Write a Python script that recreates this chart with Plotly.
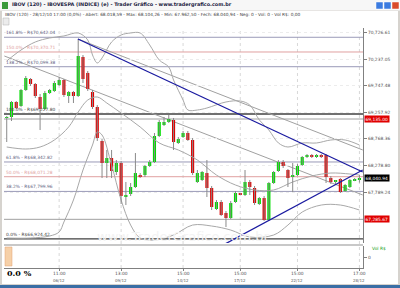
import plotly.graph_objects as go

# ---------------- data ----------------
opens = [69154, 69172, 69449, 69375, 69670, 69873, 69781, 69541, 69320, 69615,
         69652, 69762, 69854, 69559, 69633, 69559, 70279, 69984, 69633, 69357,
         68730, 68324, 68416, 68158, 68324, 67697, 67752, 67881, 68102, 68102,
         68269, 68342, 68822, 69024, 69080, 69117, 68693, 68803, 68877, 68748,
         67974, 68011, 68139, 67863, 67476, 67605, 67402, 67310, 67605, 67762,
         67734, 67974, 67863, 67568, 67678, 67273, 67955, 68176, 68342, 68195,
         68084, 68102, 68287, 68435, 68471, 68435, 68471, 68471, 68047, 67974,
         68029, 67808, 67881, 68002, 68018.59]
highs = [69191, 69467, 69467, 69689, 69928, 69891, 69799, 69596, 69652, 69689,
         69836, 69910, 69873, 69652, 69652, 70610, 70315, 70020, 69670, 69393,
         68766, 68564, 68564, 68379, 68361, 67974, 67955, 68508, 68139, 68287,
         68379, 68877, 69117, 69172, 69209, 69154, 68803, 68914, 68914, 68785,
         68195, 68176, 68379, 67900, 67642, 67642, 67439, 67623, 67808, 67771,
         68195, 68011, 67900, 67697, 67715, 67974, 68176, 68379, 68379, 68213,
         68324, 68305, 68453, 68490, 68490, 68490, 68490, 68490, 68084, 68011,
         68047, 67937, 68029, 68047, 68104.26]
lows = [68711, 69098, 69320, 69357, 69652, 69744, 69522, 68932, 69301, 69596,
        69633, 69744, 69541, 69430, 69430, 69541, 69799, 69652, 69320, 68730,
        68047, 68047, 68047, 68102, 67568, 67549, 67715, 67863, 68047, 68066,
        68250, 68324, 68803, 69006, 69062, 68564, 68674, 68785, 68730, 68102,
        67955, 67992, 67697, 67457, 67457, 67347, 67144, 67291, 67586, 67734,
        67715, 67734, 67549, 67549, 67254, 67254, 67937, 68158, 68232, 67881,
        67789, 68084, 68269, 68416, 68416, 68416, 68416, 67955, 67937, 67918,
        67771, 67789, 67863, 67990, 67962.50]
closes = [69172, 69449, 69338, 69670, 69891, 69781, 69559, 69320, 69615, 69670,
          69799, 69854, 69578, 69633, 69559, 70297, 69873, 69689, 69357, 68785,
          68324, 68416, 68176, 68324, 67715, 67734, 67881, 68139, 68066, 68269,
          68342, 68822, 69080, 69080, 69135, 68711, 68766, 68877, 68748, 68139,
          68139, 68158, 67863, 67513, 67605, 67365, 67310, 67586, 67771, 67743,
          67974, 67881, 67586, 67678, 67273, 67955, 68158, 68342, 68269, 68047,
          68102, 68269, 68435, 68471, 68435, 68471, 68435, 68066, 67974, 68011,
          67789, 67918, 68011, 68029, 68040.94]
x_tick_index = [11, 24, 37, 49, 61, 74]
x_tick_time = ["11:00", "13:00", "15:00", "15:00", "15:00", "17:00"]
x_tick_date = ["06/12", "09/12", "14/12", "17/12", "22/12", "28/12"]
y_tick_values = [67789.24, 68278.80, 68768.36, 69257.92, 69747.48, 70237.05, 70726.61]
y_tick_labels = ["67,789.24", "68,278.80", "68,768.36", "69,257.92", "69,747.48",
                 "70,237.05", "70,726.61"]

fib_levels = [70642.04, 70370.71, 70099.38, 69227.80, 68342.82, 68071.28, 67799.96, 66924.42]
fib_labels = ["161.8% - R$70,642.04", "150.0% - R$70,370.71", "138.2% - R$70,099.38",
              "100.0% - R$69,227.80", "61.8% - R$68,342.82", "50.0% - R$68,071.28",
              "38.2% - R$67,799.96", "0.0% - R$66,924.42"]
fib_colors = ["#9a9ab8", "#e0a0a0", "#9a9ab8", "#404040", "#9a9ab8", "#e0a0a0",
              "#9a9ab8", "#404040"]

hline_levels = [69135.00, 67285.67]
hline_labels = ["69,135.00", "67,285.67"]
last_price = 68040.94

bb_upper_x = [0, 3, 6, 9, 12, 15, 17, 18, 19, 20, 22, 24, 26, 28, 30, 32, 34, 35, 37,
              38, 40, 42, 46, 49, 51, 53, 55, 57, 59, 62, 65, 68, 71, 74]
bb_upper_y = [70205, 70407, 70555, 70629, 70666, 70721, 70592, 70315, 70168, 70260,
              70555, 70684, 70721, 70721, 70500, 70223, 70094, 69854, 69485,
              69301, 69301, 69338, 69449, 69467, 69393, 69117, 68932, 68693, 68619,
              68693, 68693, 68748, 68748, 68656]
bb_mid_x = [0, 4, 7, 10, 13, 15, 17, 19, 21, 24, 28, 32, 36, 40, 44, 48, 52, 56, 60,
            64, 68, 72, 74]
bb_mid_y = [68619, 68582, 68619, 68748, 68988, 69264, 69485, 69541, 69430, 69246,
            68988, 68693, 68564, 68379, 68102, 67918, 67826, 67826, 67974, 68084,
            68139, 68121, 68102]
bb_low_x = [0, 5, 9, 11, 12, 14, 16, 18, 19, 20, 22, 24, 26, 28, 31, 35, 39, 43, 47,
            51, 56, 59, 62, 66, 70, 74]
bb_low_y = [66941, 66941, 66978, 67052, 67236, 67642, 68195, 68656, 68895, 68840,
            68287, 67642, 67180, 66941, 66904, 66996, 67180, 67162, 67088, 66959,
            66996, 67180, 67420, 67549, 67549, 67457]

# trend lines: [x0, y0, x1, y1]
blue_lines = [[14.95, 70610, 74.7, 68158], [45.4, 66812, 74.7, 68195]]
gray_lines = [[14.95, 70610, 74.7, 68564], [-0.5, 70297, 74.7, 67734]]

# ---------------- figure ----------------
W, H = 400, 288
ML, MR, MT, MB = 4, 37, 28, 20
PW, PH = W - ML - MR, H - MT - MB


def px(x):
    return (x - ML) / PW


def py(y):
    return (H - MB - y) / PH


idx = list(range(len(opens)))
X0, X1 = -0.57, 74.75
Y0, Y1 = 66849, 70813

fig = go.Figure()

for xs, ys in [(bb_upper_x, bb_upper_y), (bb_mid_x, bb_mid_y), (bb_low_x, bb_low_y)]:
    fig.add_trace(go.Scatter(x=xs, y=ys, mode="lines",
                             line=dict(color="#a8a8a8", width=1, shape="spline", smoothing=1.0),
                             hoverinfo="skip"))

wx, wy = [], []
for i, h, l in zip(idx, highs, lows):
    wx += [i, i, None]
    wy += [l, h, None]
fig.add_trace(go.Scatter(x=wx, y=wy, mode="lines", line=dict(color="#8a8a8a", width=1), hoverinfo="skip"))

base = [min(o, c) for o, c in zip(opens, closes)]
height = [max(abs(c - o), 18) for o, c in zip(opens, closes)]
cols = ["#00dd00" if c >= o else "#e00000" for o, c in zip(opens, closes)]
fig.add_trace(go.Bar(x=idx, y=height, base=base, marker=dict(color=cols, line=dict(width=0)), width=0.66))

fig.add_trace(go.Scatter(x=[0, 74], y=[0, 0], mode="lines", line=dict(width=0, color="rgba(0,0,0,0)"),
                         xaxis="x2", yaxis="y2", hoverinfo="skip"))

shapes = []
shapes.append(dict(type="rect", xref="paper", yref="paper", x0=px(0), x1=px(400), y0=py(288), y1=py(0),
                   fillcolor="#d6d3ce", line=dict(width=0), layer="below"))
shapes.append(dict(type="rect", xref="paper", yref="paper", x0=px(2), x1=px(398), y0=py(284), y1=py(11),
                   fillcolor="#ffffff", line=dict(width=0), layer="below"))
shapes.append(dict(type="rect", xref="paper", yref="paper", x0=px(0), x1=px(400), y0=py(10.5), y1=py(0),
                   fillcolor="#f7f7f7", line=dict(width=0), layer="below"))
shapes.append(dict(type="rect", xref="paper", yref="paper", x0=px(0), x1=px(400), y0=py(288), y1=py(285),
                   fillcolor="#3a6ea5", line=dict(width=0), layer="below"))
for bx, bc in [(376, "#3b7be0"), (384, "#3b7be0"), (392, "#d94a2a")]:
    shapes.append(dict(type="rect", xref="paper", yref="paper", x0=px(bx), x1=px(bx + 7), y0=py(9), y1=py(2),
                       fillcolor=bc, line=dict(color="#ffffff", width=0.5)))
shapes.append(dict(type="rect", xref="paper", yref="paper", x0=px(2), x1=px(8), y0=py(9), y1=py(2),
                   fillcolor="#3a9a3a", line=dict(width=0)))
shapes.append(dict(type="rect", xref="paper", yref="paper", x0=px(3), x1=px(9), y0=py(25), y1=py(18),
                   fillcolor="#ececec", line=dict(color="#b0b0b0", width=0.5)))
shapes.append(dict(type="rect", xref="paper", yref="paper", x0=px(5), x1=px(12), y0=py(266), y1=py(247),
                   fillcolor="#f6d0a8", line=dict(color="#e0a070", width=0.5)))
shapes.append(dict(type="line", xref="paper", yref="paper", x0=px(4), x1=px(363), y0=py(245), y1=py(245),
                   line=dict(color="#c8c8c8", width=2)))

for t in x_tick_index:
    shapes.append(dict(type="line", xref="x", yref="paper", x0=t, x1=t, y0=0, y1=1,
                       line=dict(color="#d8d8d8", width=1, dash="dot"), layer="below"))
for lv, c in zip(fib_levels, fib_colors):
    shapes.append(dict(type="line", xref="paper", yref="y", x0=0, x1=1, y0=lv, y1=lv,
                       line=dict(color=c, width=1.3 if c == "#404040" else 1), layer="below"))
for lv in hline_levels:
    shapes.append(dict(type="line", xref="paper", yref="y", x0=0, x1=1, y0=lv, y1=lv,
                       line=dict(color="#a0a0a0", width=1), layer="below"))
for x0, y0, x1, y1 in gray_lines:
    shapes.append(dict(type="line", xref="x", yref="y", x0=x0, y0=y0, x1=x1, y1=y1,
                       line=dict(color="#a0a0a0", width=1), layer="below"))
for x0, y0, x1, y1 in blue_lines:
    shapes.append(dict(type="line", xref="x", yref="y", x0=x0, y0=y0, x1=x1, y1=y1,
                       line=dict(color="#1a1aa0", width=1.3)))

F = "DejaVu Sans"
ann = []
ann.append(dict(x=px(10), y=py(5), xref="paper", yref="paper", xanchor="left", yanchor="middle",
                text="<b>IBOV (120) - IBOVESPA (INDICE) (e) - Trader Gráfico - www.tradergrafico.com.br</b>",
                showarrow=False, font=dict(size=4.9, color="#202040", family=F)))
ann.append(dict(x=px(3), y=py(14.5), xref="paper", yref="paper", xanchor="left", yanchor="middle",
                text="IBOV (120) - 28/12/10 17:00 (0,0%) - Abert: 68.018,59 - Max: 68.104,26 - Min: 67.962,50 - Fech: 68.040,94 - Neg: 0 - Vol: 0 - Vol R$: 0,00",
                showarrow=False, font=dict(size=4.3, color="#404040", family=F)))
ann.append(dict(x=px(183), y=py(236), xref="paper", yref="paper", xanchor="center", yanchor="middle",
                text="www.TraderGrafico.com.br", showarrow=False,
                font=dict(size=13, color="#f3f3f3", family=F)))
for lv, lab, c in zip(fib_levels, fib_labels, fib_colors):
    ann.append(dict(x=px(4), y=lv, xref="paper", yref="y", xanchor="left", yanchor="bottom",
                    text=lab, showarrow=False,
                    font=dict(size=4.4, color=c if c != "#9a9ab8" else "#606080", family=F)))
for lv, lab in zip(hline_levels, hline_labels):
    ann.append(dict(x=px(364), y=lv, xref="paper", yref="y", xanchor="left", yanchor="middle",
                    text=lab, showarrow=False, bgcolor="#e00000", borderpad=0.5,
                    font=dict(size=4.4, color="#ffffff", family=F)))
ann.append(dict(x=px(364), y=last_price, xref="paper", yref="y", xanchor="left", yanchor="middle",
                text="68,040.94", showarrow=False, bgcolor="#000000", borderpad=0.5,
                font=dict(size=4.4, color="#ffffff", family=F)))
ann.append(dict(x=px(370), y=py(248), xref="paper", yref="paper", xanchor="left", yanchor="middle",
                text="Vol R$", showarrow=False, font=dict(size=4.4, color="#20a020", family=F)))
ann.append(dict(x=px(5), y=py(272.5), xref="paper", yref="paper", xanchor="left", yanchor="middle",
                text="<b>0.0 %</b>", showarrow=False, font=dict(size=8, color="#000000", family="DejaVu Serif")))
for t, tm, dt in zip(x_tick_index, x_tick_time, x_tick_date):
    ann.append(dict(x=t, y=py(273.5), xref="x", yref="paper", xanchor="center", yanchor="middle",
                    text=tm, showarrow=False, font=dict(size=4.4, color="#505050", family=F)))
    ann.append(dict(x=t, y=py(280), xref="x", yref="paper", xanchor="center", yanchor="middle",
                    text=dt, showarrow=False, font=dict(size=4.0, color="#606060", family=F)))

axfont = dict(size=4.4, color="#505050", family=F)
fig.update_layout(
    width=W, height=H, margin=dict(l=ML, r=MR, t=MT, b=MB, autoexpand=False),
    paper_bgcolor="#ffffff", plot_bgcolor="#ffffff",
    showlegend=False, barmode="overlay",
    shapes=shapes, annotations=ann,
    xaxis=dict(range=[X0, X1], showticklabels=False, showgrid=False, zeroline=False,
               showline=False, ticks="", domain=[0, 1], anchor="y"),
    xaxis2=dict(range=[X0, X1], tickvals=x_tick_index, showticklabels=False, showgrid=False,
                zeroline=False, showline=True, linecolor="#808080", linewidth=1, ticks="outside",
                ticklen=2, tickcolor="#808080", domain=[0, 1], anchor="y2", matches="x"),
    yaxis=dict(domain=[py(243), 1], range=[Y0, Y1], side="right", tickvals=y_tick_values,
               ticktext=y_tick_labels, showgrid=True, gridcolor="#ececec", griddash="dot",
               zeroline=False, showline=True, linecolor="#808080", linewidth=1, ticks="outside",
               ticklen=3, tickcolor="#808080", automargin=False, anchor="x", tickfont=axfont),
    yaxis2=dict(domain=[0, py(246)], range=[-1, 1], side="right", tickvals=[0], ticktext=["0"],
                showgrid=False, zeroline=False, showline=True, linecolor="#808080", linewidth=1,
                ticks="outside", ticklen=3, tickcolor="#808080", automargin=False, anchor="x2",
                tickfont=axfont),
)

fig.write_html("out.html")
